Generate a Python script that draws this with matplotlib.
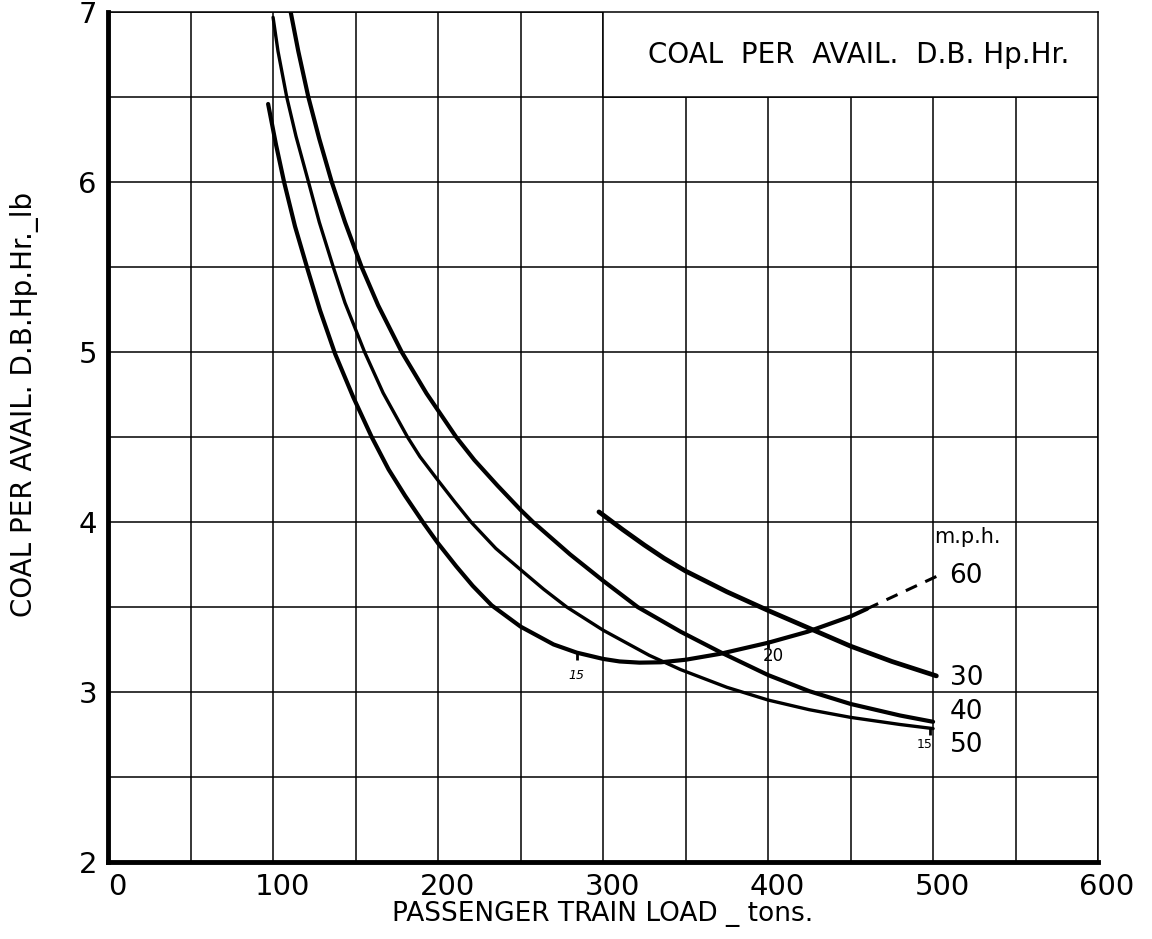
import matplotlib
matplotlib.use("Agg")
import matplotlib.pyplot as plt
import matplotlib.transforms as mtransforms
from matplotlib.patches import Rectangle

plt.rcParams["font.family"] = ["DejaVu Sans"]

# curves: load (tons) vs coal per avail. D.B. Hp.Hr. (lb)
load_60 = [97, 101.8, 106.7, 113.3, 121, 128.5, 137.6, 148.6, 159.8, 170, 180, 191.5, 200, 211, 221, 232.5,
           250, 270, 284, 300, 310, 322, 335, 350, 371, 400, 424, 450, 460]
coal_60 = [6.46, 6.22, 6.0, 5.74, 5.485, 5.245, 4.99, 4.735, 4.5, 4.31, 4.155, 3.99, 3.875, 3.74, 3.625, 3.51,
           3.385, 3.28, 3.232, 3.195, 3.18, 3.173, 3.175, 3.19, 3.225, 3.29, 3.355, 3.445, 3.49]
load_60_dash = [460, 502]
coal_60_dash = [3.49, 3.68]

load_50 = [100, 103, 108.3, 113.9, 121.5, 128, 136.5, 143.6, 155.5, 166.7, 181.5, 189, 200, 210, 220, 235, 250,
           264, 278, 300, 328, 347, 375, 400, 425, 450, 480, 500]
coal_50 = [6.97, 6.77, 6.5, 6.27, 6.0, 5.765, 5.5, 5.29, 5.0, 4.76, 4.5, 4.385, 4.245, 4.12, 4.0, 3.845, 3.72,
           3.605, 3.5, 3.364, 3.216, 3.132, 3.028, 2.953, 2.896, 2.851, 2.809, 2.785]

load_40 = [110.7, 115.3, 121.4, 128, 135.6, 143.6, 153.7, 163.7, 178, 193, 211, 222, 236, 250, 257.6,
           280, 300, 321, 347, 371, 400, 425, 450, 480, 500]
coal_40 = [7.0, 6.77, 6.5, 6.255, 6.0, 5.765, 5.5, 5.275, 5.0, 4.757, 4.5, 4.365, 4.215, 4.072, 4.0,
           3.81, 3.655, 3.5, 3.355, 3.235, 3.1, 3.005, 2.93, 2.862, 2.825]

load_30 = [297.5, 300, 312, 325, 337, 350, 375, 400, 425, 450, 475, 502]
coal_30 = [4.06, 4.042, 3.955, 3.865, 3.787, 3.712, 3.59, 3.48, 3.375, 3.27, 3.18, 3.095]

speed_labels = ["60", "30", "40", "50"]
speed_label_y = [3.68, 3.08, 2.88, 2.69]

# small marks for 15 / 20 on the curves
mark_load = [284, 400, 498]
mark_coal = [3.215, 3.28, 2.77]
mark_text = ["15", "20", "15"]
mark_text_xy = [(284, 3.1), (403, 3.21), (495, 2.69)]

x_ticks = [0, 100, 200, 300, 400, 500, 600]
y_ticks = [2, 3, 4, 5, 6, 7]

fig = plt.figure(figsize=(11.52, 9.39), dpi=100)
ax = fig.add_axes([0.0938, 0.082, 0.8594, 0.905])

ax.set_xlim(0, 600)
ax.set_ylim(2, 7)

# grid every 50 tons and 0.5 lb
for gx in range(50, 601, 50):
    ax.axvline(gx, color="black", lw=1.1, zorder=1)
for gy in [2.5, 3, 3.5, 4, 4.5, 5, 5.5, 6, 6.5, 7]:
    ax.axhline(gy, color="black", lw=1.1, zorder=1)

ax.plot(load_60, coal_60, color="black", lw=3.0, solid_capstyle="round", solid_joinstyle="round", zorder=3)
ax.plot(load_60_dash, coal_60_dash, color="black", lw=2.2, ls=(0, (4, 3)), zorder=3)
ax.plot(load_50, coal_50, color="black", lw=2.4, solid_capstyle="round", solid_joinstyle="round", zorder=3)
ax.plot(load_40, coal_40, color="black", lw=3.0, solid_capstyle="round", solid_joinstyle="round", zorder=3)
ax.plot(load_30, coal_30, color="black", lw=3.4, solid_capstyle="round", solid_joinstyle="round", zorder=3)

ax.plot(mark_load, mark_coal, ls="none", marker="|", ms=6, mew=2, color="black", zorder=3)
ax.text(*mark_text_xy[0], mark_text[0], fontsize=9, style="italic", ha="center", va="center")
ax.text(*mark_text_xy[1], mark_text[1], fontsize=12, ha="center", va="center")
ax.text(*mark_text_xy[2], mark_text[2], fontsize=9, ha="center", va="center")

ax.text(521, 3.91, "m.p.h.", fontsize=15, ha="center", va="center")
for lab, yy in zip(speed_labels, speed_label_y):
    ax.text(510, yy, lab, fontsize=19, ha="left", va="center")

# title box
ax.add_patch(Rectangle((300, 6.5), 300, 0.5, facecolor="white", edgecolor="black", lw=1.1, zorder=4))
ax.text(455, 6.75, "COAL  PER  AVAIL.  D.B. Hp.Hr.", fontsize=20, ha="center", va="center", zorder=5)

ax.set_xticks(x_ticks)
ax.set_yticks(y_ticks)
ax.set_xticklabels([str(t) for t in x_ticks], fontsize=21)
ax.set_yticklabels([str(t) for t in y_ticks], fontsize=21)
ax.tick_params(length=0, pad=8)
shift = mtransforms.ScaledTranslation(0.09, 0, fig.dpi_scale_trans)
for lab in ax.get_xticklabels():
    lab.set_transform(lab.get_transform() + shift)

for side in ["top", "right"]:
    ax.spines[side].set_linewidth(1.1)
for side in ["left", "bottom"]:
    ax.spines[side].set_linewidth(3.5)

ax.set_xlabel("PASSENGER TRAIN LOAD _ tons.", fontsize=19, labelpad=0)
ax.set_ylabel("COAL PER AVAIL. D.B.Hp.Hr._lb", fontsize=20)
ax.yaxis.set_label_coords(-0.07, 0.538)

plt.savefig("out.png", dpi=100)
